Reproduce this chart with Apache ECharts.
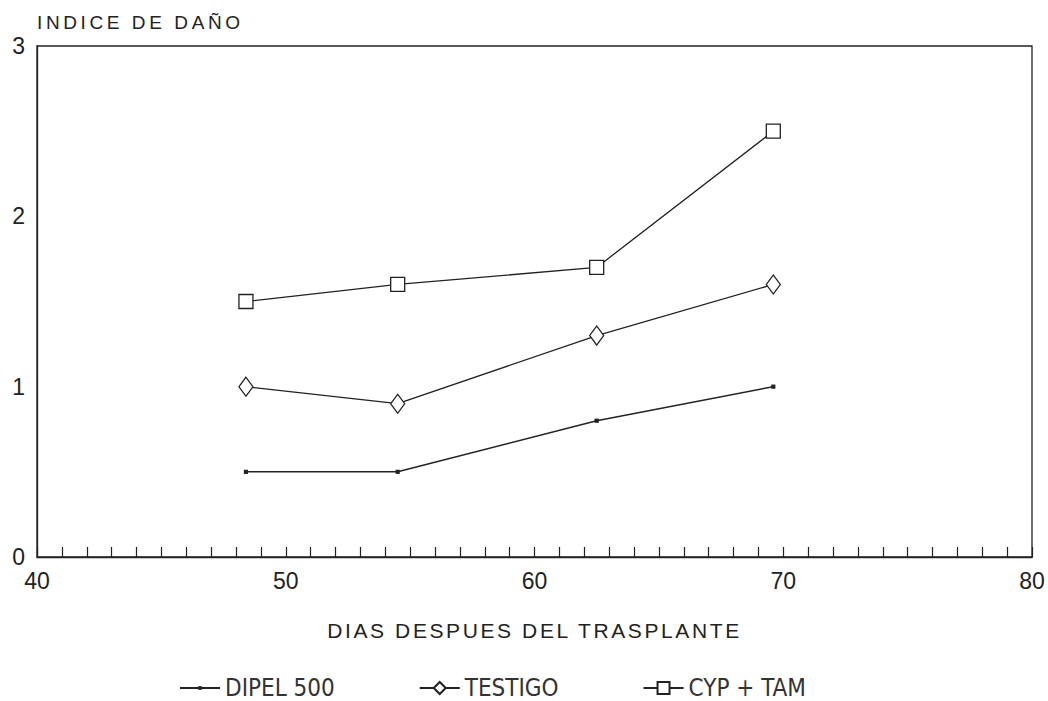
<!DOCTYPE html>
<html>
<head>
<meta charset="utf-8">
<script src="https://cdn.jsdelivr.net/npm/echarts@6/dist/echarts.min.js"></script>
<style>
  html, body { margin: 0; padding: 0; background: #fff; }
  #chart { width: 1048px; height: 701px; }
</style>
</head>
<body>
<div id="chart"></div>
<script>
// Días después del trasplante en que se evaluó el daño
const dias = [48.4, 54.5, 62.5, 69.6];

// Índice de daño por tratamiento
const dipel500 = [0.5, 0.5, 0.8, 1.0];
const testigo = [1.0, 0.9, 1.3, 1.6];
const cypTam = [1.5, 1.6, 1.7, 2.5];

const seriesNames = ['DIPEL 500', 'TESTIGO', 'CYP + TAM'];
const xTicks = [40, 50, 60, 70, 80];
const yTicks = [0, 1, 2, 3];

const xTitle = 'DIAS DESPUES DEL TRASPLANTE';
const yTitle = 'INDICE DE DAÑO';

const font = 'Liberation Sans, Arial, sans-serif';
const narrowFont = 'DejaVu Sans Condensed, Liberation Sans, sans-serif';
const ink = '#222';

// small filled dot centred in a larger (empty) box, so it stays small in the legend too
const dotSymbol = 'path://M0,0 M20,20 M7,7 L13,7 L13,13 L7,13 Z';

function pairs(ys) {
  return dias.map((d, i) => [d, ys[i]]);
}

const chart = echarts.init(document.getElementById('chart'), null, { renderer: 'svg' });

chart.setOption({
  animation: false,
  backgroundColor: '#fff',
  grid: {
    left: 37, right: 16, top: 46, bottom: 144,
    show: true, borderColor: ink, borderWidth: 1.3, backgroundColor: 'transparent'
  },
  legend: {
    data: seriesNames,
    bottom: -4,
    left: 174,
    itemGap: 84,
    itemWidth: 40,
    itemHeight: 15,
    textStyle: { fontFamily: narrowFont, fontSize: 24, color: '#333' }
  },
  xAxis: {
    type: 'value',
    min: xTicks[0],
    max: xTicks[xTicks.length - 1],
    interval: 10,
    name: xTitle,
    nameLocation: 'middle',
    nameGap: 63,
    nameTextStyle: { fontFamily: font, fontSize: 21, color: ink },
    axisLine: { show: true, lineStyle: { color: ink, width: 1.3 } },
    axisTick: { show: true, inside: true, length: 10, lineStyle: { color: ink, width: 1.2 } },
    minorTick: { show: true, splitNumber: 10, length: 10, lineStyle: { color: ink, width: 1.2 } },
    axisLabel: { fontFamily: font, fontSize: 23, color: ink, margin: 12 },
    splitLine: { show: false }
  },
  yAxis: {
    type: 'value',
    min: yTicks[0],
    max: yTicks[yTicks.length - 1],
    interval: 1,
    name: yTitle,
    nameLocation: 'end',
    nameGap: 14,
    nameTextStyle: { fontFamily: font, fontSize: 19, color: ink, align: 'left' },
    axisLine: { show: true, lineStyle: { color: ink, width: 1.3 } },
    axisTick: { show: false },
    axisLabel: { fontFamily: font, fontSize: 23, color: ink, margin: 12 },
    splitLine: { show: false }
  },
  series: [
    {
      name: seriesNames[0],
      type: 'line',
      data: pairs(dipel500),
      symbol: dotSymbol,
      symbolSize: 14,
      lineStyle: { color: ink, width: 1.5 },
      itemStyle: { color: ink }
    },
    {
      name: seriesNames[1],
      type: 'line',
      data: pairs(testigo),
      symbol: 'diamond',
      symbolSize: [14, 19],
      lineStyle: { color: ink, width: 1.3 },
      itemStyle: { color: '#fff', borderColor: ink, borderWidth: 1.3 }
    },
    {
      name: seriesNames[2],
      type: 'line',
      data: pairs(cypTam),
      symbol: 'rect',
      symbolSize: 14,
      lineStyle: { color: ink, width: 1.3 },
      itemStyle: { color: '#fff', borderColor: ink, borderWidth: 1.3 }
    }
  ]
});

// the axis titles are set in a widely tracked plotter lettering
const tracking = {};
tracking[xTitle] = '2.6px';
tracking[yTitle] = '3.6px';
document.querySelectorAll('#chart svg text').forEach(function (t) {
  const ls = tracking[t.textContent];
  if (ls) t.style.letterSpacing = ls;
});
</script>
</body>
</html>
